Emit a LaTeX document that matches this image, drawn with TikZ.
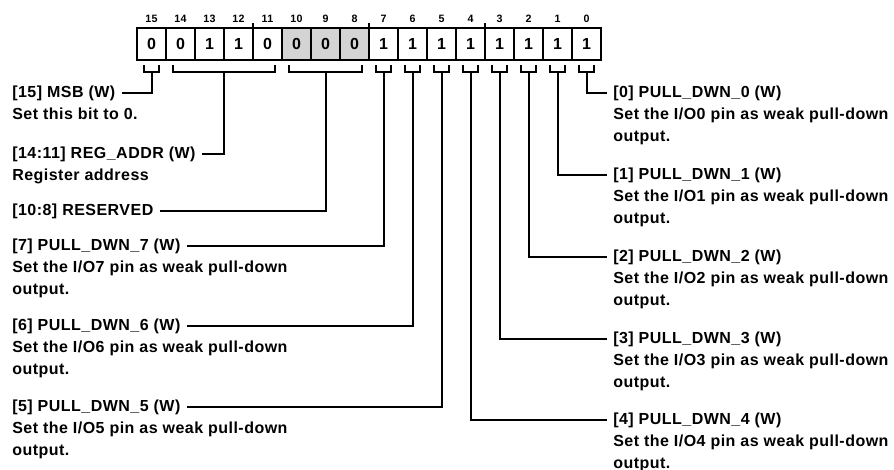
\documentclass[tikz,border=0pt]{standalone}
\usepackage{fontspec}
\setmainfont{Liberation Sans}[LetterSpace=3]
\usetikzlibrary{positioning,calc}
\definecolor{rsvgray}{RGB}{212,212,212}
% bracket under cells #1..#2, stem point #3
\newcommand\brk[3]{\draw[link] ([shift={(7,-5)}]#1.south west) -- ++(0,-7.5)
  -- coordinate (#3) ([shift={(-7,-12.5)}]#2.south east) -- ++(0,7.5);}

\begin{document}
\begin{tikzpicture}[x=0.75pt,y=0.75pt,
  cell/.style={draw,line width=1.6pt,outer sep=0pt,inner sep=0pt,minimum width=21.75pt,minimum height=24pt,font=\bfseries\fontsize{12}{14}\selectfont},
  rsv/.style={cell,fill=rsvgray},
  bitno/.style={inner sep=0pt,font=\bfseries\fontsize{8}{9}\selectfont},
  title/.style={anchor=west,inner sep=0pt,font=\bfseries\fontsize{12}{16.5}\selectfont},
  desc/.style={align=left,inner sep=0pt,font=\bfseries\fontsize{12}{16.5}\selectfont},
  link/.style={line width=1.5pt}]
  \useasboundingbox (0,0) rectangle (894,-470);
  % register cells
  \foreach \b/\v/\s in {15/0/cell,14/0/cell,13/1/cell,12/1/cell,11/0/cell,10/0/rsv,9/0/rsv,8/0/rsv,
                        7/1/cell,6/1/cell,5/1/cell,4/1/cell,3/1/cell,2/1/cell,1/1/cell,0/1/cell} {
    \node[\s] (c\b) at ({151.5+(15-\b)*29},-44) {\v};
    \node[bitno] (n\b) at ({151.5+(15-\b)*29},-19) {\b};
  }
  \draw[link] (c11.north west) -- ++(0,5);
  \draw[link] (c7.north west) -- ++(0,5);
  \draw[link] (c3.north west) -- ++(0,5);
  % brackets
  \brk{c14}{c11}{k14}
  \brk{c10}{c8}{k10}
  \foreach \b in {15,7,6,5,4,3,2,1,0} {\brk{c\b}{c\b}{k\b}}
  % left labels
  \node[title] (t15) at (12,-93) {[15] MSB (W)};
  \node[desc,below=7.7pt of t15.base west,anchor=north west] (d15) {Set this bit to 0.};
  \node[title] (t14) at (12,-154) {[14:11] REG\_ADDR (W)};
  \node[desc,below=7.7pt of t14.base west,anchor=north west] (d14) {Register address};
  \node[title] (t10) at (12,-211) {[10:8] RESERVED};
  \node[title] (t7) at (12,-246) {[7] PULL\_DWN\_7 (W)};
  \node[desc,below=7.7pt of t7.base west,anchor=north west] (d7) {Set the I/O7 pin as weak pull-down\\output.};
  \node[title] (t6) at (12,-326) {[6] PULL\_DWN\_6 (W)};
  \node[desc,below=7.7pt of t6.base west,anchor=north west] (d6) {Set the I/O6 pin as weak pull-down\\output.};
  \node[title] (t5) at (12,-407) {[5] PULL\_DWN\_5 (W)};
  \node[desc,below=7.7pt of t5.base west,anchor=north west] (d5) {Set the I/O5 pin as weak pull-down\\output.};
  % right labels
  \node[title] (t0) at (613,-93) {[0] PULL\_DWN\_0 (W)};
  \node[desc,below=7.7pt of t0.base west,anchor=north west] (d0) {Set the I/O0 pin as weak pull-down\\output.};
  \node[title] (t1) at (613,-175) {[1] PULL\_DWN\_1 (W)};
  \node[desc,below=7.7pt of t1.base west,anchor=north west] (d1) {Set the I/O1 pin as weak pull-down\\output.};
  \node[title] (t2) at (613,-257) {[2] PULL\_DWN\_2 (W)};
  \node[desc,below=7.7pt of t2.base west,anchor=north west] (d2) {Set the I/O2 pin as weak pull-down\\output.};
  \node[title] (t3) at (613,-339) {[3] PULL\_DWN\_3 (W)};
  \node[desc,below=7.7pt of t3.base west,anchor=north west] (d3) {Set the I/O3 pin as weak pull-down\\output.};
  \node[title] (t4) at (613,-420) {[4] PULL\_DWN\_4 (W)};
  \node[desc,below=7.7pt of t4.base west,anchor=north west] (d4) {Set the I/O4 pin as weak pull-down\\output.};
  % connectors
  \foreach \t/\k in {t15/k15,t14/k14,t10/k10,t7/k7,t6/k6,t5/k5}
    \draw[link] ([xshift=5pt]\t.east) -| (\k);
  \foreach \t/\k in {t0/k0,t1/k1,t2/k2,t3/k3,t4/k4}
    \draw[link] (\k) |- ([xshift=-4.5pt]\t.west);
\end{tikzpicture}
\end{document}
